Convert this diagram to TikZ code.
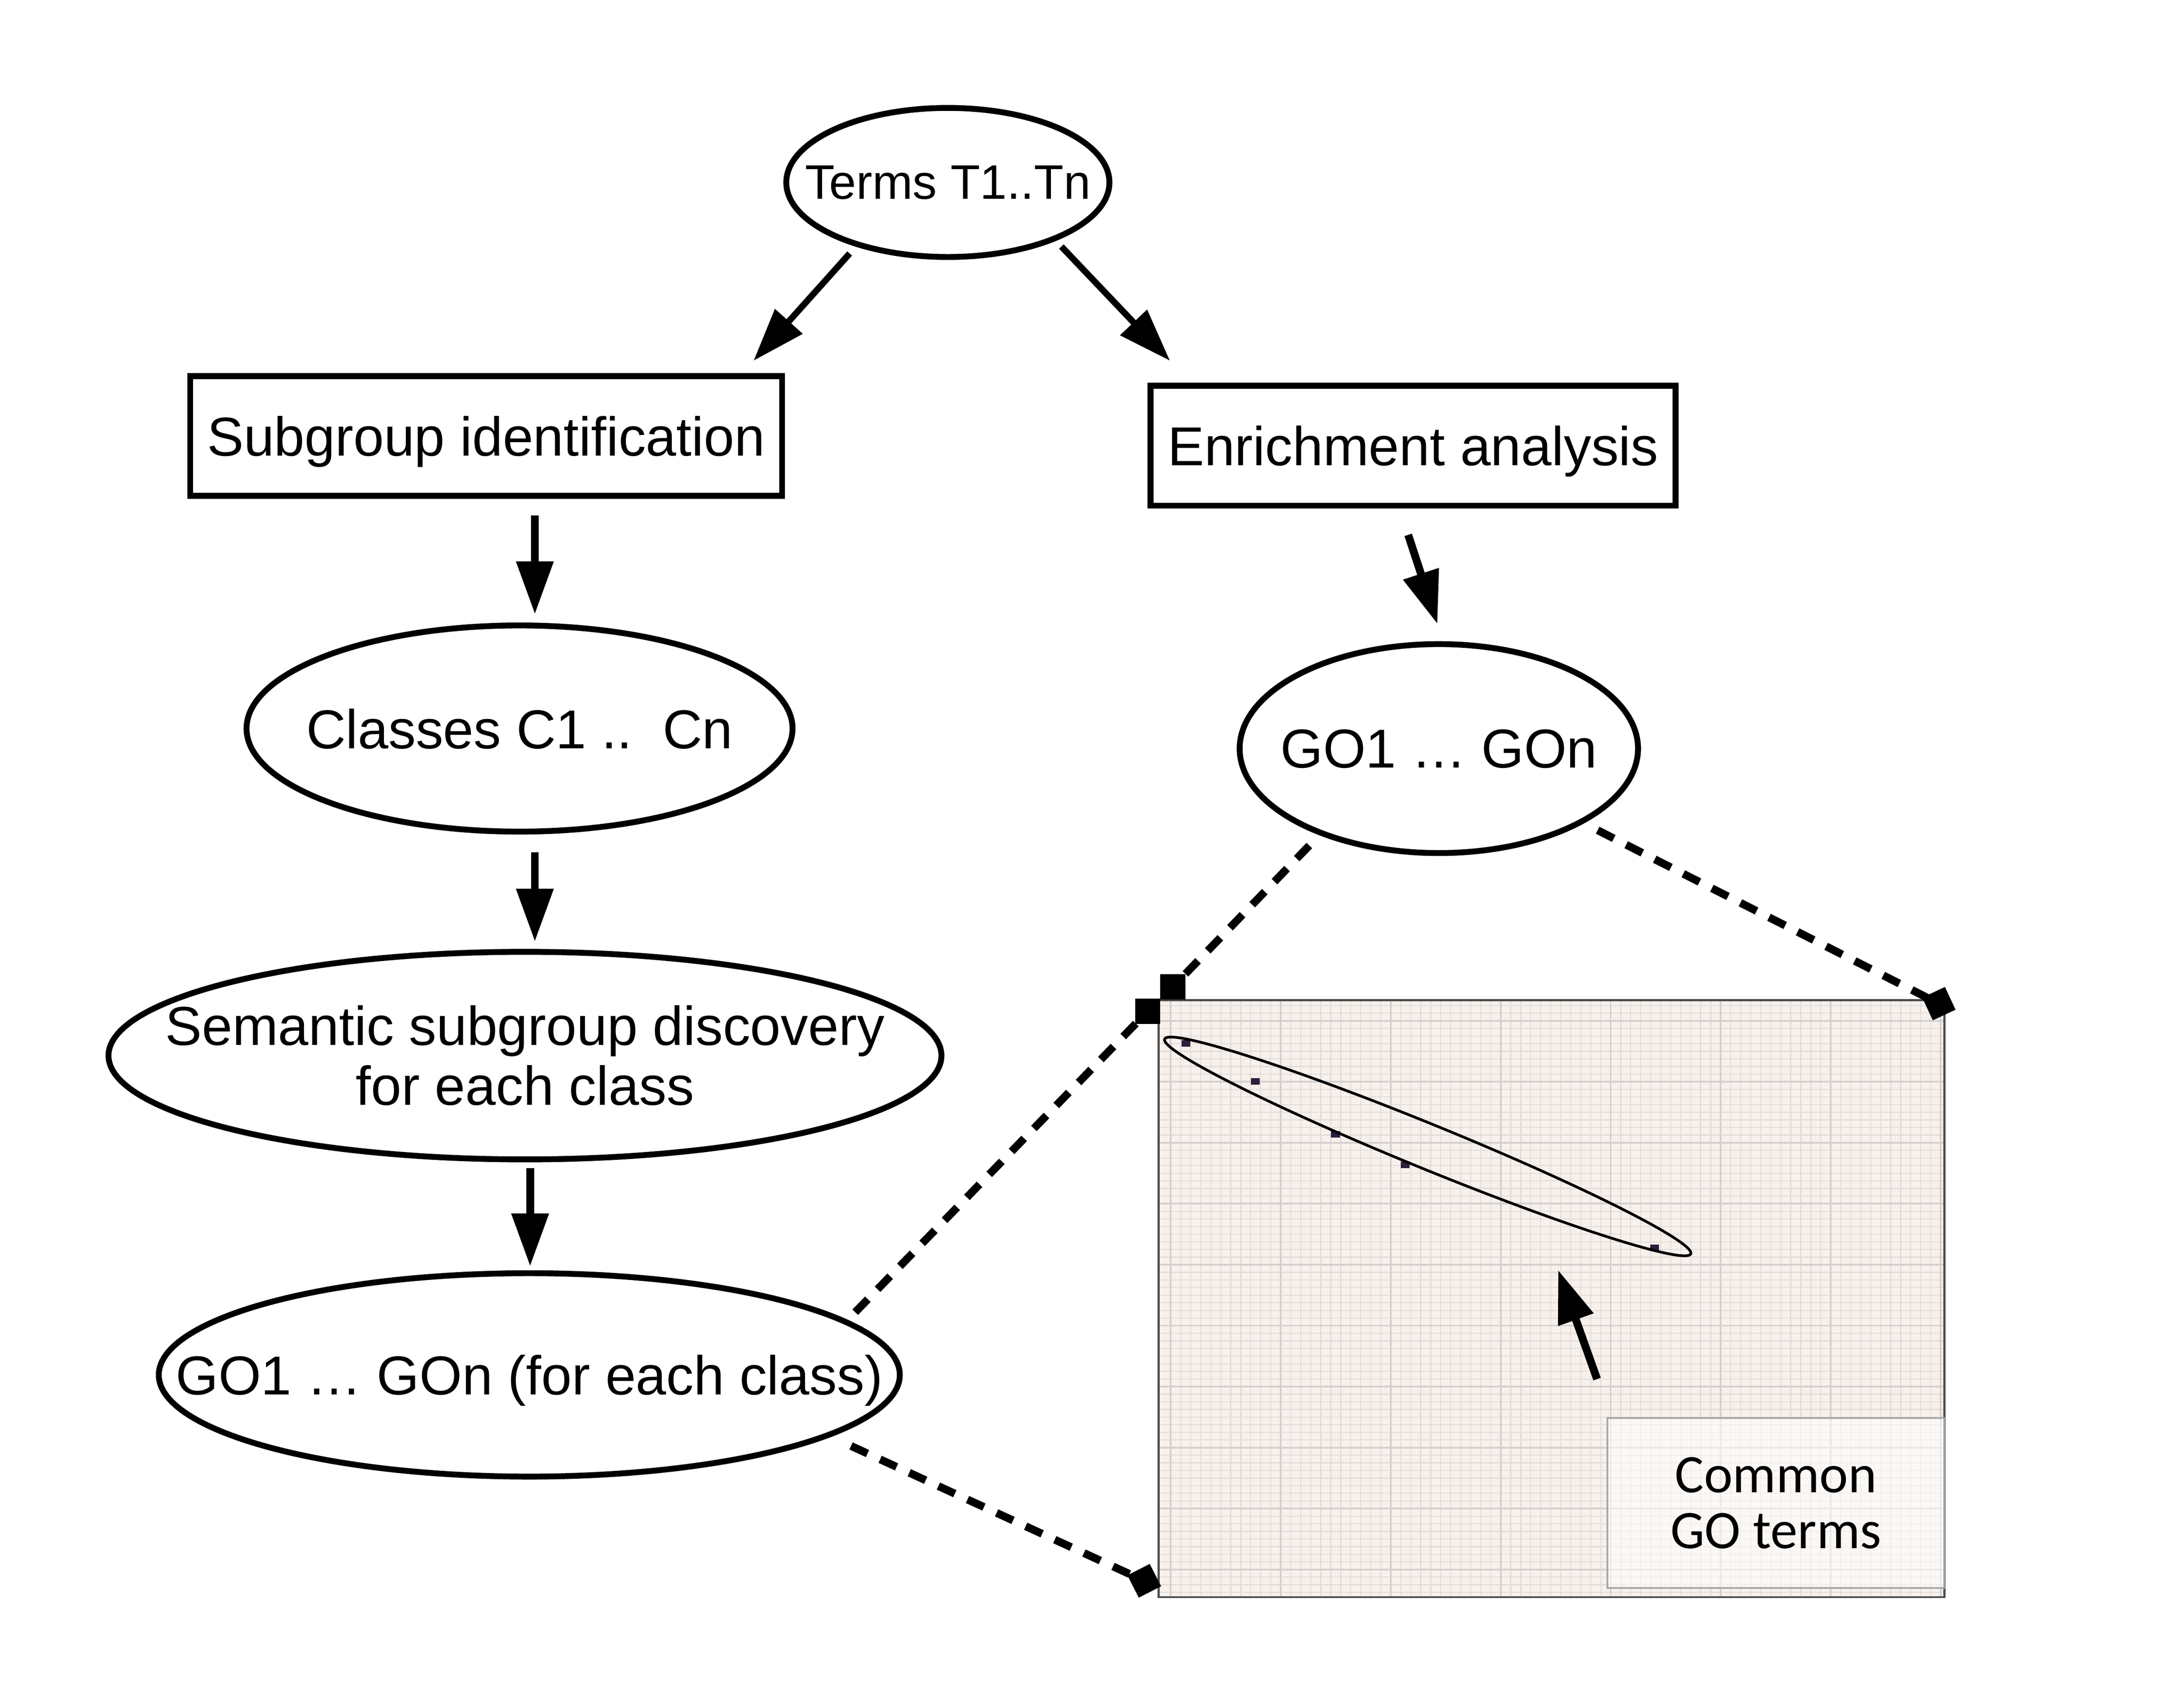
\documentclass[tikz,border=0pt]{standalone}
\usepackage{fontspec}
\setmainfont{Liberation Sans}
\newfontfamily\calibrifont{Carlito}
\usetikzlibrary{shapes.geometric,arrows.meta}

\definecolor{plotbg}{RGB}{247,240,235}
\definecolor{plotgrid}{RGB}{224,220,219}
\definecolor{plotmajor}{RGB}{210,207,207}
\definecolor{termdot}{RGB}{45,30,60}

\begin{document}
\begin{tikzpicture}[
    every node/.style={outer sep=0pt, inner sep=0pt, font=\fontsize{11.2}{13.6}\selectfont},
    oval/.style={draw, ellipse, line width=1.2pt, text depth=0pt},
    box/.style={draw, rectangle, line width=1.2pt, text depth=0pt},
    arr/.style={line width=1.6pt, -{Triangle[length=0.38cm, width=0.256cm]}},
    zoomline/.style={line width=1.6pt, dash pattern=on 0.13cm off 0.10cm},
    marker/.style={fill=black, minimum size=0.18cm},
  ]
  \useasboundingbox (0,0) rectangle (15.68,12.117);

  % Flow chart
  \node[oval, minimum width=2.32cm, minimum height=1.07cm, font=\fontsize{9.9}{12}\selectfont] (terms) at (6.805,10.807) {\makebox[0pt]{Terms T1..Tn}};
  \node[box, minimum width=4.25cm, minimum height=0.86cm] (sub) at (3.49,8.987) {Subgroup identification};
  \node[box, minimum width=3.77cm, minimum height=0.86cm] (enr) at (10.145,8.917) {Enrichment analysis};
  \node[oval, minimum width=3.92cm, minimum height=1.48cm] (cls) at (3.73,6.887) {\makebox[0pt]{Classes C1 ..\ \ Cn}};
  \node[oval, text depth={}, minimum width=5.98cm, minimum height=1.49cm] (sem) at (3.769,4.539) {\makebox[0pt]{\raisebox{-0.045cm}[\height][\depth]{\begin{tabular}{@{}c@{}}Semantic subgroup discovery\\[-1.4pt]for each class\end{tabular}}}};
  \node[oval, minimum width=5.32cm, minimum height=1.46cm] (gol) at (3.80,2.247) {\makebox[0pt]{GO1 \dots\ GOn (for each class)}};
  \node[oval, minimum width=2.86cm, minimum height=1.50cm] (gor) at (10.33,6.743) {\makebox[0pt]{GO1 \dots\ GOn}};

  % Arrows
  \draw[arr, line width=1.3pt] ([shift={(-0.705,0.025)}]terms.south) -- ([shift={(-0.205,0.11)}]sub.north east);
  \draw[arr, line width=1.3pt] ([shift={(0.815,0.075)}]terms.south) -- ([shift={(0.14,0.18)}]enr.north west);
  \draw[arr] ([shift={(0.35,-0.14)}]sub.south) -- ([shift={(0.11,0.08)}]cls.north);
  \draw[arr] ([shift={(0.11,-0.15)}]cls.south) -- ([shift={(0.071,0.073)}]sem.north);
  \draw[arr] ([shift={(0.037,-0.064)}]sem.south) -- ([shift={(0.006,0.049)}]gol.north);
  \draw[arr] ([shift={(-0.035,-0.21)}]enr.south) -- ([shift={(-0.01,0.144)}]gor.north);

  % Plot area
  \fill[plotbg] (8.318,0.652) rectangle (13.96,4.937);
  \foreach \i in {0,...,77}
    \draw[plotgrid, line width=0.2pt] ({8.405+0.0718*\i},0.652) -- ({8.405+0.0718*\i},4.937);
  \foreach \j in {0,...,77}
    \draw[plotgrid, line width=0.2pt] (8.318,{0.686+0.0547*\j}) -- (13.96,{0.686+0.0547*\j});
  \foreach \i in {0,11,...,77}
    \draw[plotmajor, line width=0.35pt] ({8.405+0.0718*\i},0.652) -- ({8.405+0.0718*\i},4.937);
  \foreach \j in {3,11,...,77}
    \draw[plotmajor, line width=0.35pt] (8.318,{0.686+0.0547*\j}) -- (13.96,{0.686+0.0547*\j});
  \draw[gray!60!black, line width=0.4pt] (8.318,0.652) rectangle (13.96,4.937);

  % Terms in the plot
  \foreach \x/\y in {8.514/4.625, 9.013/4.353, 9.589/3.974, 10.088/3.756, 11.879/3.160} {
    \fill[termdot] ({\x-0.0325},{\y-0.0235}) rectangle ++(0.065,0.047);
  }
  \draw[line width=0.55pt, rotate around={-22.2:(10.25,3.887)}] (10.25,3.887) ellipse [x radius=2.04, y radius=0.16];

  % Label
  \node[draw=gray!70, line width=0.3pt, fill=white, fill opacity=0.55, text opacity=1, minimum width=2.42cm, minimum height=1.22cm, align=center, font=\calibrifont\fontsize{11.1}{11.4}\selectfont] (common) at (12.75,1.327) {Common\\GO terms};
  \coordinate (hit) at (11.186,3.001);
  \draw[arr] ([shift={(-0.074,0.28)}]common.north west) -- (hit);

  % Zoom lines
  \node[marker] (mA) at (8.42,5.032) {};
  \node[marker] (mB) at (8.24,4.857) {};
  \node[marker, rotate=25] (mC) at (13.92,4.912) {};
  \node[marker, rotate=27] (mD) at (8.215,0.769) {};
  \draw[zoomline] ([shift={(-0.93,0.054)}]gor.south) -- (mA.center);
  \draw[zoomline] ([shift={(1.14,0.164)}]gor.south) -- (mC.center);
  \draw[zoomline] ([shift={(-0.32,0.45)}]gol.east) -- (mB.center);
  \draw[zoomline] ([shift={(-0.35,-0.51)}]gol.east) -- (mD.center);

\end{tikzpicture}
\end{document}
